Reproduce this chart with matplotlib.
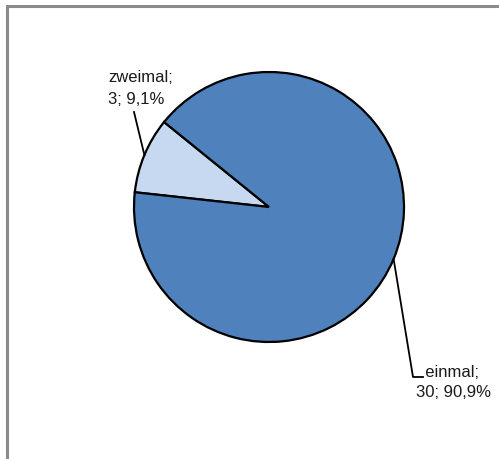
import numpy as np
import matplotlib
matplotlib.use("Agg")
import matplotlib.pyplot as plt
from matplotlib.patches import Rectangle

labels = ["zweimal", "einmal"]
counts = [3, 30]
percent_labels = ["9,1%", "90,9%"]
colors = ["#C6D9F0", "#4F81BD"]

W, H = 499, 460
plt.rcParams['font.family'] = ['Liberation Sans', 'DejaVu Sans']

fig = plt.figure(figsize=(W / 100, H / 100), dpi=100)
ax = fig.add_axes([0, 0, 1, 1])

cx, cy, r = 269, H - 208, 135
start = 141
wedges, _ = ax.pie(counts, colors=colors, startangle=start, counterclock=True,
                   center=(cx, cy), radius=r, frame=True,
                   wedgeprops=dict(edgecolor='black', linewidth=1.6))
ax.set_xlim(0, W)
ax.set_ylim(0, H)
ax.set_aspect('equal')
ax.axis('off')

# label text positions (pixel coords from top-left)
text_pos = [(108, 70), (416, 365)]
for i, w in enumerate(wedges):
    mid = np.deg2rad((w.theta1 + w.theta2) / 2)
    ax_pt = (cx + r * np.cos(mid), cy + r * np.sin(mid))
    tx, ty = text_pos[i]
    if i == 0:
        txt = f"{labels[i]};\n{counts[i]}; {percent_labels[i]}"
        ax.text(tx, H - ty, txt, ha='left', va='top', fontsize=12, color='#1a1a1a',
                linespacing=1.6)
        ax.plot([134, ax_pt[0]], [H - 113, ax_pt[1]], color='black', lw=1.3)
    else:
        txt = "  " + labels[i] + ";\n" + f"{counts[i]}; {percent_labels[i]}"
        ax.text(tx, H - ty, txt, ha='left', va='top', fontsize=12, color='#1a1a1a',
                linespacing=1.45)
        ax.plot([ax_pt[0], 413, 423], [ax_pt[1], H - 378, H - 378], color='black', lw=1.3)

fig.patches.append(Rectangle((7 / W, -0.1), 1.2, (H - 7) / H + 0.1, transform=fig.transFigure,
                             fill=False, edgecolor='#8c8c8c', linewidth=2.2))

fig.savefig("out.png", dpi=100)
